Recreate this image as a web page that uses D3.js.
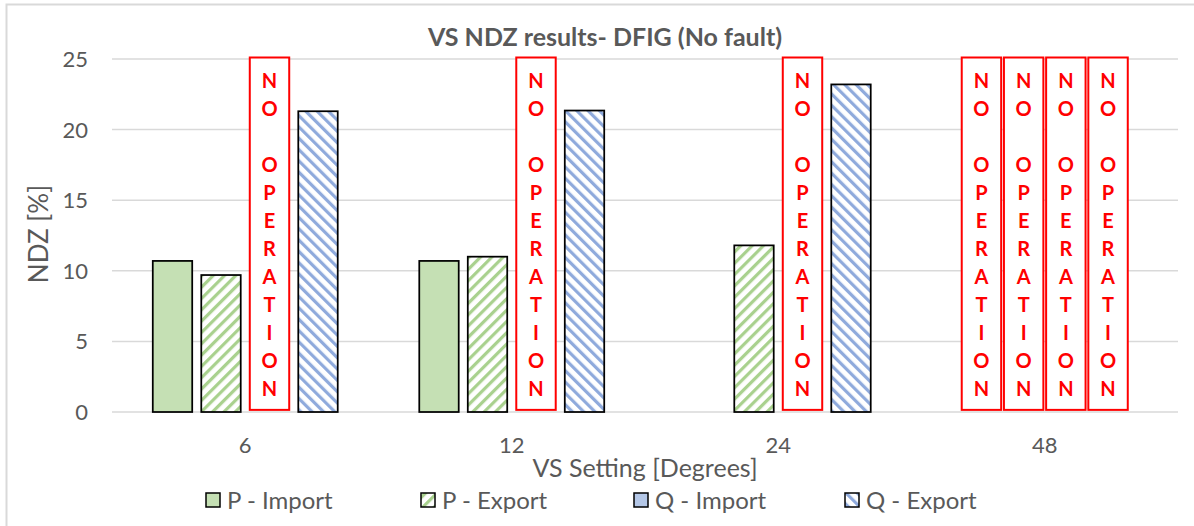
<!DOCTYPE html>
<html>
<head>
<meta charset="utf-8">
<script src="https://cdn.jsdelivr.net/npm/d3@7/dist/d3.min.js"></script>
<style>
  html, body { margin: 0; padding: 0; background: #fff; }
  svg text { font-family: Lato, "Open Sans", sans-serif; }
</style>
</head>
<body>
<svg id="chart" width="1194" height="526"></svg>
<script>
// ---- data ----
const categories = ["6", "12", "24", "48"];
const seriesNames = ["P - Import", "P - Export", "Q - Import", "Q - Export"];
const pImport = [10.7, 10.7, null, null];
const pExport = [9.7, 11.0, 11.8, null];
const qImport = [null, null, null, null];
const qExport = [21.3, 21.35, 23.2, null];
const yTicks = [0, 5, 10, 15, 20, 25];
// "NO OPERATION" annotations: category + series slot
const noOperation = [
  {cat: "6", slot: 2}, {cat: "12", slot: 2}, {cat: "24", slot: 2},
  {cat: "48", slot: 0}, {cat: "48", slot: 1}, {cat: "48", slot: 2}, {cat: "48", slot: 3}
];
const noOpLines = ["N", "O", "", "O", "P", "E", "R", "A", "T", "I", "O", "N"];

const seriesValues = [pImport, pExport, qImport, qExport];

// ---- layout ----
const svg = d3.select("#chart");
const W = 1194, H = 526;
const plot = {left: 112, right: 1178, top: 59, bottom: 412};
const textColor = "#595959";
const gridColor = "#D9D9D9";

// patterns
const defs = svg.append("defs");
function stripe(id, color, dir) {
  const p = defs.append("pattern").attr("id", id)
    .attr("patternUnits", "userSpaceOnUse").attr("width", 8).attr("height", 8)
    .attr("patternTransform", `rotate(${dir})`);
  p.append("rect").attr("width", 8).attr("height", 8).attr("fill", "#fff");
  p.append("rect").attr("x", 0).attr("y", 0).attr("width", 3.2).attr("height", 8).attr("fill", color);
}
stripe("pExp", "#A9D18E", 45);
stripe("qExp", "#8FAADC", -45);

const fills = ["#C5E0B4", "url(#pExp)", "#B4C7E7", "url(#qExp)"];

// outer border
svg.append("rect").attr("x", 6.5).attr("y", 4.5).attr("width", W + 20).attr("height", H + 20)
  .attr("fill", "#fff").attr("stroke", gridColor).attr("stroke-width", 2);

const x = d3.scaleBand().domain(categories).range([plot.left, plot.right]).padding(0);
const y = d3.scaleLinear().domain([0, 25]).range([plot.bottom, plot.top]);

const band = x.bandwidth();
const slotStep = band * 0.182;
const barW = band * 0.148;
const slotX = (cat, i, k = 1) => x(cat) + band / 2 + (i - 1.5) * slotStep * k - barW / 2;

// gridlines
svg.append("g").selectAll("line").data(yTicks).join("line")
  .attr("x1", plot.left).attr("x2", plot.right)
  .attr("y1", d => y(d)).attr("y2", d => y(d))
  .attr("stroke", gridColor).attr("stroke-width", 1.5);

// y tick labels
svg.append("g").selectAll("text").data(yTicks).join("text")
  .attr("x", 88).attr("y", d => y(d)).attr("dy", "0.36em")
  .attr("text-anchor", "end").attr("fill", textColor).attr("font-size", 22)
  .text(d => d);

// x tick labels
svg.append("g").selectAll("text").data(categories).join("text")
  .attr("x", d => x(d) + band / 2).attr("y", 453)
  .attr("text-anchor", "middle").attr("fill", textColor).attr("font-size", 22)
  .text(d => d);

// bars
seriesValues.forEach((vals, si) => {
  svg.append("g").selectAll("rect")
    .data(categories.map((c, ci) => ({c, v: vals[ci]})).filter(d => d.v != null))
    .join("rect")
    .attr("x", d => slotX(d.c, si))
    .attr("y", d => y(d.v))
    .attr("width", barW)
    .attr("height", d => y(0) - y(d.v))
    .attr("fill", fills[si])
    .attr("stroke", "#000").attr("stroke-width", 1.75);
});

// NO OPERATION boxes
const noOpG = svg.append("g");
const lineH = 28;
noOperation.forEach(d => {
  const k = d.cat === "48" ? 0.87 : 1;
  const bx = slotX(d.cat, d.slot, k);
  const g = noOpG.append("g");
  g.append("rect").attr("x", bx).attr("y", y(25) - 1.5)
    .attr("width", barW).attr("height", y(0.15) - y(25) + 1.5)
    .attr("fill", "#fff").attr("stroke", "#FF0000").attr("stroke-width", 2);
  g.selectAll("text").data(noOpLines).join("text")
    .attr("x", bx + barW / 2)
    .attr("y", (t, i) => y(25) + 28.5 + i * lineH)
    .attr("text-anchor", "middle")
    .attr("fill", "#FF0000").attr("font-weight", "bold").attr("font-size", 20)
    .text(t => t);
});

// title
svg.append("text").attr("x", 605).attr("y", 46).attr("text-anchor", "middle")
  .attr("fill", textColor).attr("font-weight", "bold").attr("font-size", 25)
  .text("VS NDZ results- DFIG (No fault)");

// axis titles
svg.append("text").attr("x", (plot.left + plot.right) / 2).attr("y", 477)
  .attr("text-anchor", "middle").attr("fill", textColor).attr("font-size", 25)
  .text("VS Setting [Degrees]");
svg.append("text").attr("transform", "translate(48,234) rotate(-90)")
  .attr("text-anchor", "middle").attr("fill", textColor).attr("font-size", 26)
  .text("NDZ [%]");

// legend
const legendX = [206, 421, 634, 845];
const lg = svg.append("g");
seriesNames.forEach((name, i) => {
  lg.append("rect").attr("x", legendX[i]).attr("y", 493).attr("width", 14).attr("height", 14)
    .attr("fill", fills[i]).attr("stroke", "#000").attr("stroke-width", 1.5);
  lg.append("text").attr("x", legendX[i] + 21).attr("y", 509)
    .attr("fill", textColor).attr("font-size", 24).text(name);
});
</script>
</body>
</html>
